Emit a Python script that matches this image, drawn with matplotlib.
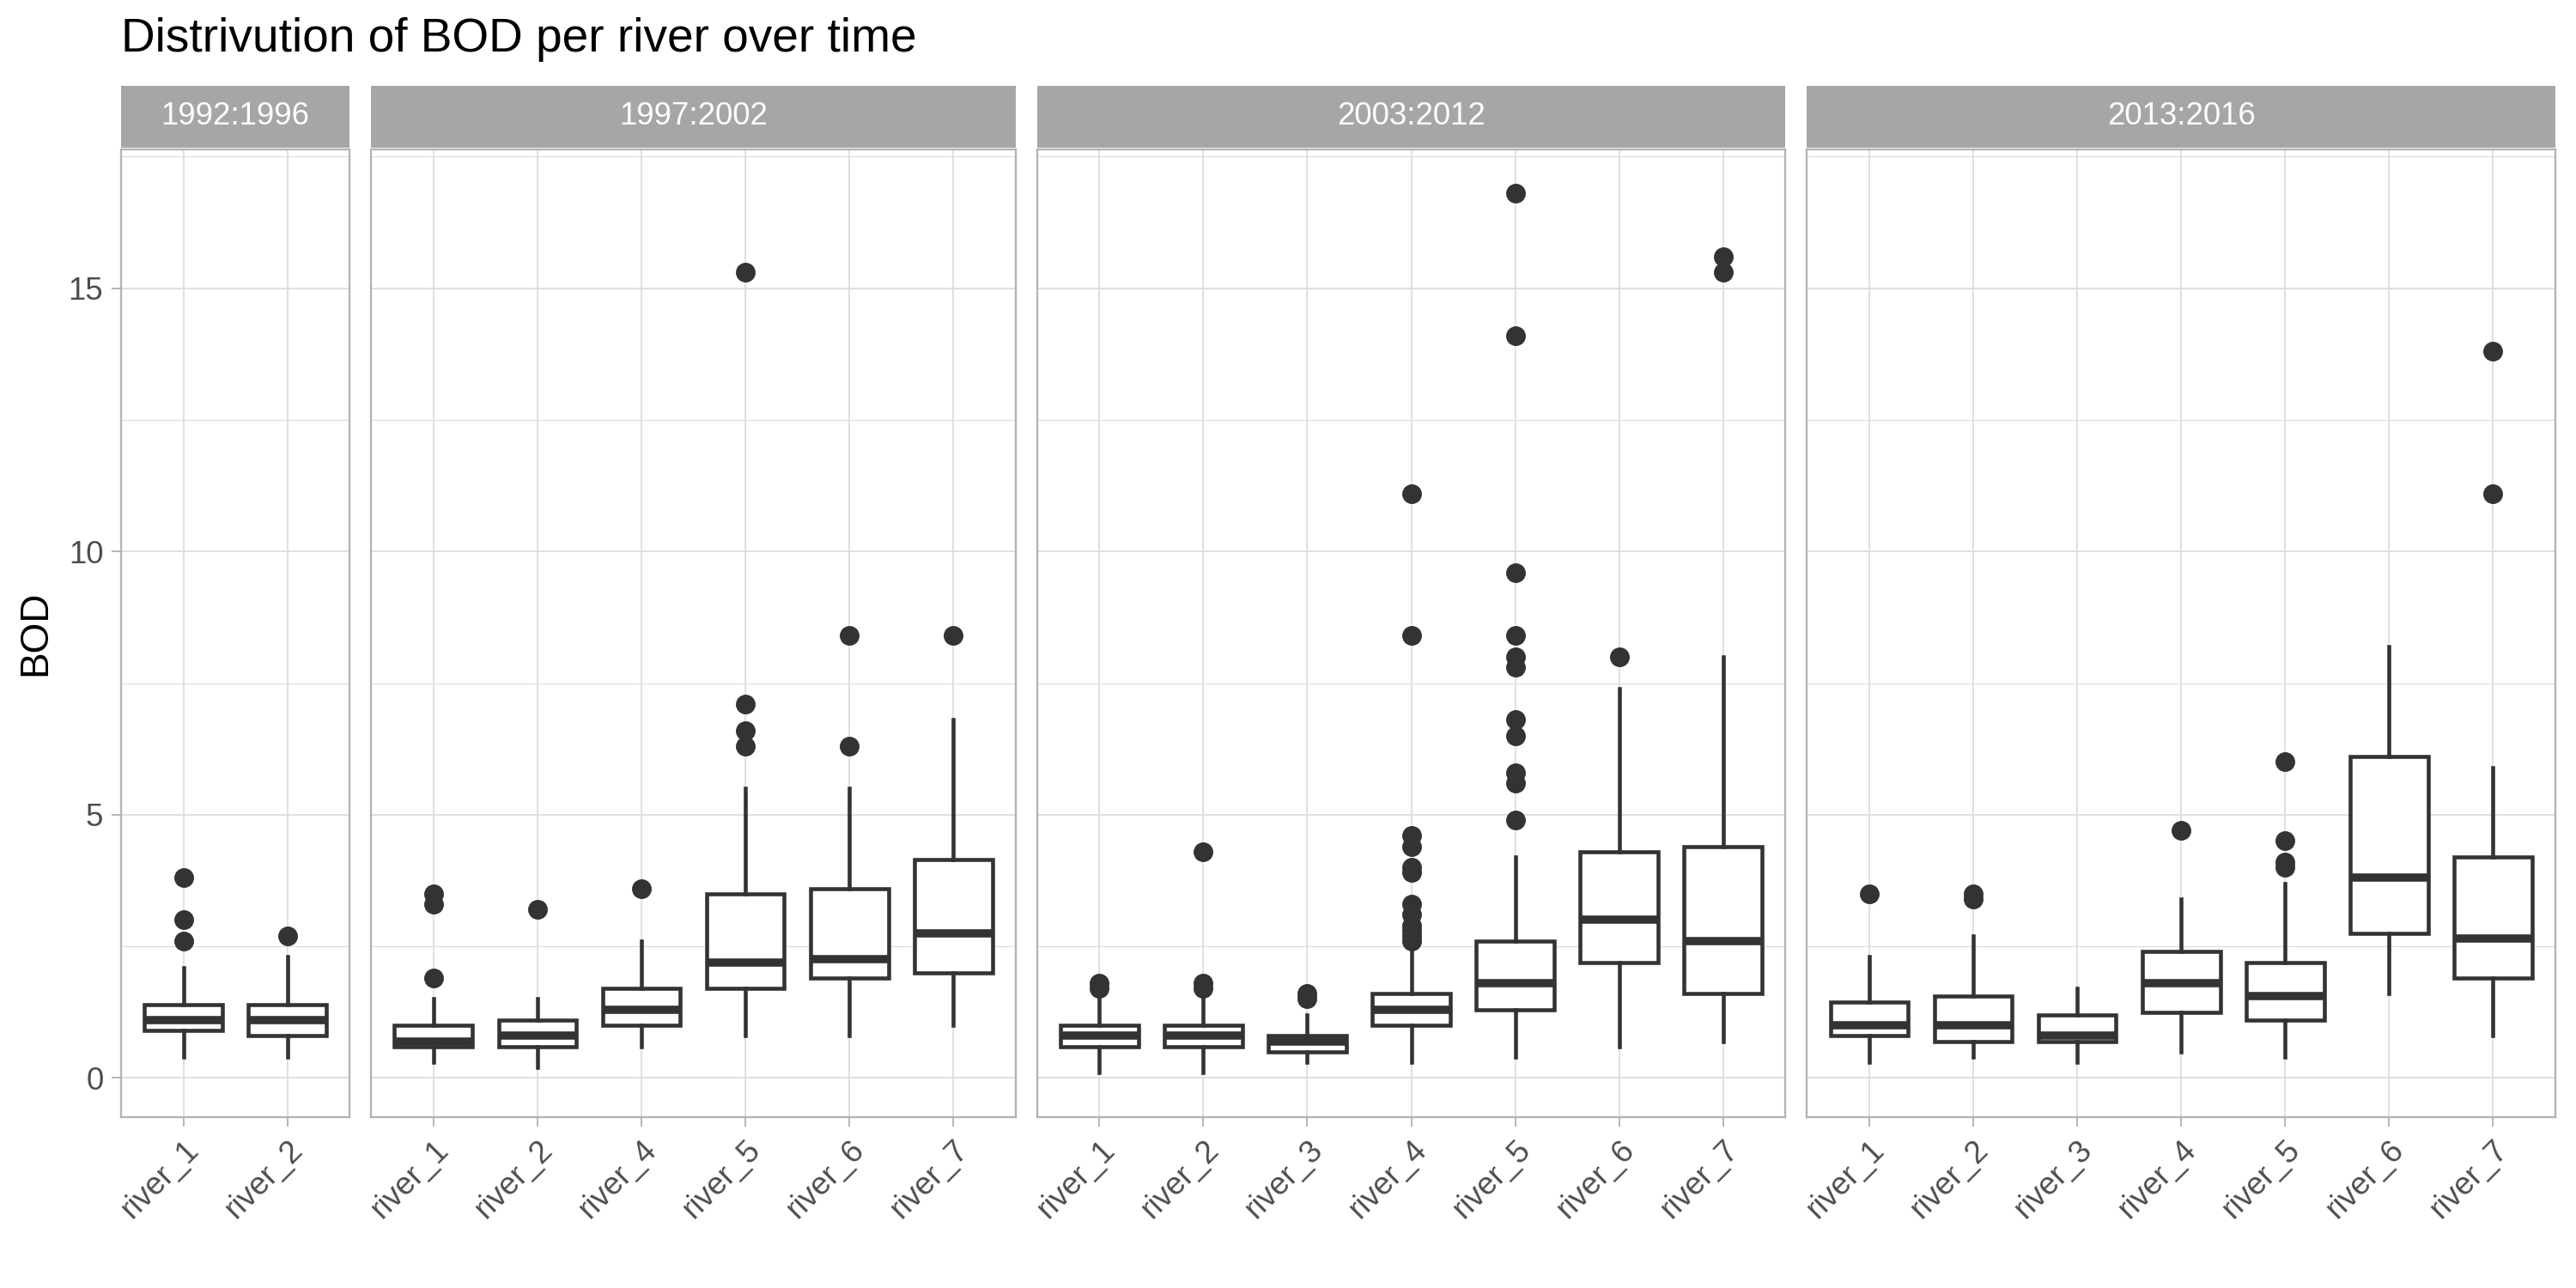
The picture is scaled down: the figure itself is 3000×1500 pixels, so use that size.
import matplotlib
matplotlib.use("Agg")
import matplotlib.pyplot as plt
from matplotlib.patches import Rectangle

plt.rcParams['font.family'] = ['Liberation Sans', 'DejaVu Sans']

periods = ['1992:1996', '1997:2002', '2003:2012', '2013:2016']

rivers_1992 = ['river_1', 'river_2']
rivers_1997 = ['river_1', 'river_2', 'river_4', 'river_5', 'river_6', 'river_7']
rivers_2003 = ['river_1', 'river_2', 'river_3', 'river_4', 'river_5', 'river_6', 'river_7']
rivers_2013 = ['river_1', 'river_2', 'river_3', 'river_4', 'river_5', 'river_6', 'river_7']

# whisker low, Q1, median, Q3, whisker high
box_1992 = [[0.4, 0.9, 1.1, 1.4, 2.1],
            [0.4, 0.8, 1.1, 1.4, 2.3]]
box_1997 = [[0.3, 0.6, 0.7, 1.0, 1.5],
            [0.2, 0.6, 0.8, 1.1, 1.5],
            [0.6, 1.0, 1.3, 1.7, 2.6],
            [0.8, 1.7, 2.2, 3.5, 5.5],
            [0.8, 1.9, 2.25, 3.6, 5.5],
            [1.0, 2.0, 2.75, 4.15, 6.8]]
box_2003 = [[0.1, 0.6, 0.8, 1.0, 1.5],
            [0.1, 0.6, 0.8, 1.0, 1.5],
            [0.3, 0.5, 0.7, 0.8, 1.2],
            [0.3, 1.0, 1.3, 1.6, 2.4],
            [0.4, 1.3, 1.8, 2.6, 4.2],
            [0.6, 2.2, 3.0, 4.3, 7.4],
            [0.7, 1.6, 2.6, 4.4, 8.0]]
box_2013 = [[0.3, 0.8, 1.0, 1.45, 2.3],
            [0.4, 0.7, 1.0, 1.55, 2.7],
            [0.3, 0.7, 0.8, 1.2, 1.7],
            [0.5, 1.25, 1.8, 2.4, 3.4],
            [0.4, 1.1, 1.55, 2.2, 3.7],
            [1.6, 2.75, 3.8, 6.1, 8.2],
            [0.8, 1.9, 2.65, 4.2, 5.9]]

out_1992 = [[2.6, 3.0, 3.8], [2.7]]
out_1997 = [[1.9, 3.3, 3.5], [3.2], [3.6], [6.3, 6.6, 7.1, 15.3], [6.3, 8.4], [8.4]]
out_2003 = [[1.7, 1.8], [1.7, 1.8, 4.3], [1.5, 1.6],
            [2.6, 2.7, 2.8, 2.9, 3.1, 3.3, 3.9, 4.0, 4.4, 4.6, 8.4, 11.1],
            [4.9, 5.6, 5.8, 6.5, 6.8, 7.8, 8.0, 8.4, 9.6, 14.1, 16.8],
            [8.0], [15.3, 15.6]]
out_2013 = [[3.5], [3.4, 3.5], [], [4.7], [4.0, 4.1, 4.5, 6.0], [], [11.1, 13.8]]

panels = [(rivers_1992, box_1992, out_1992),
          (rivers_1997, box_1997, out_1997),
          (rivers_2003, box_2003, out_2003),
          (rivers_2013, box_2013, out_2013)]

dark = '#333333'
grid_c = '#DEDEDE'
frame_c = '#B3B3B3'
text_c = '#4D4D4D'

widths = [len(p[0]) - 1 + 1.2 for p in panels]
fig, axes = plt.subplots(1, 4, figsize=(10, 5), dpi=300, sharey=True,
                         gridspec_kw={'width_ratios': widths, 'wspace': 0.036})
fig.subplots_adjust(left=0.047, right=0.992, top=0.884, bottom=0.133)

for ax, period, (names, boxes, outs) in zip(axes, periods, panels):
    stats = []
    for name, b, o in zip(names, boxes, outs):
        stats.append({'label': name, 'whislo': b[0], 'q1': b[1], 'med': b[2],
                      'q3': b[3], 'whishi': b[4], 'fliers': o})
    ax.bxp(stats, positions=range(len(names)), widths=0.75, showcaps=False,
           patch_artist=True,
           boxprops=dict(facecolor='white', edgecolor=dark, linewidth=1.1),
           whiskerprops=dict(color=dark, linewidth=1.1),
           medianprops=dict(color=dark, linewidth=2.3, solid_capstyle='butt'),
           flierprops=dict(marker='o', markerfacecolor=dark, markeredgecolor=dark,
                           markersize=4.5, linestyle='none'))
    ax.set_xlim(-0.6, len(names) - 1 + 0.6)
    ax.set_ylim(-0.735, 17.635)
    ax.set_yticks([0, 5, 10, 15])
    ax.set_yticks([2.5, 7.5, 12.5, 17.5], minor=True)
    ax.grid(True, which='major', color=grid_c, linewidth=0.45)
    ax.grid(True, which='minor', axis='y', color=grid_c, linewidth=0.3)
    ax.set_axisbelow(True)
    ax.set_xticks(range(len(names)))
    ax.set_xticklabels(names, rotation=45, ha='right', va='top',
                       rotation_mode='anchor', fontsize=8.8, color=text_c)
    ax.tick_params(axis='both', which='major', color=frame_c, width=0.45, length=2.75,
                   labelsize=8.8, labelcolor=text_c, pad=2.2)
    ax.tick_params(axis='y', which='minor', length=0)
    for s in ax.spines.values():
        s.set_color(frame_c)
        s.set_linewidth(0.55)
    if ax is not axes[0]:
        ax.tick_params(axis='y', which='major', length=0)
    strip = Rectangle((0, 1.002), 1, 0.064, transform=ax.transAxes,
                      facecolor='#A6A6A6', edgecolor='none', clip_on=False)
    ax.add_patch(strip)
    ax.text(0.5, 1.002 + 0.032, period, transform=ax.transAxes, ha='center',
            va='center', color='white', fontsize=8.8)

axes[0].set_ylabel('BOD', fontsize=11, color='black', labelpad=4)
fig.text(0.047, 0.969, 'Distrivution of BOD per river over time', fontsize=13.2,
         color='black', ha='left', va='center')

fig.savefig('out.png', dpi=300)
